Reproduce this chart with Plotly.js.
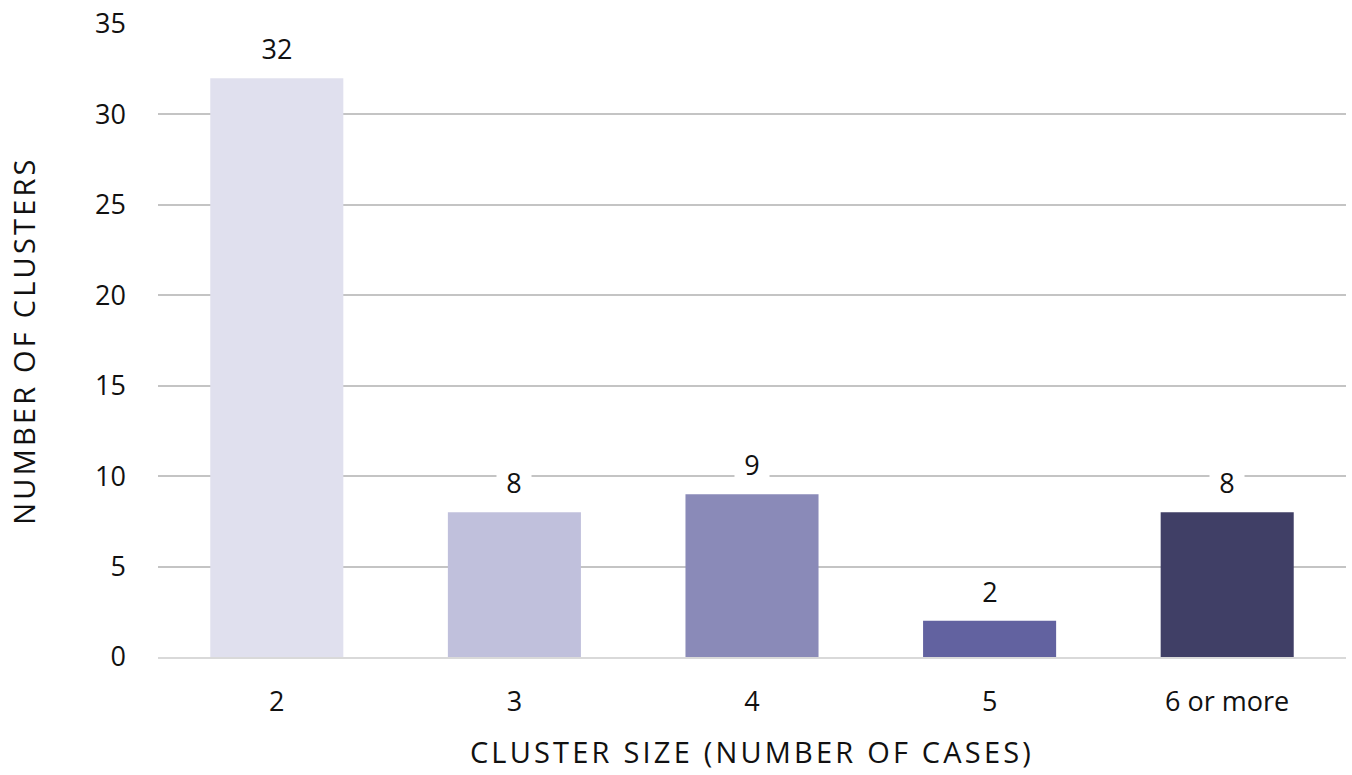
<!DOCTYPE html>
<html>
<head>
<meta charset="utf-8">
<script src="https://cdn.plot.ly/plotly-3.0.1.min.js"></script>
<style>
html,body{margin:0;padding:0;background:#fff;}
#chart{width:1352px;height:775px;}
.xtitle,.ytitle{letter-spacing:3.2px;}
</style>
</head>
<body>
<div id="chart"></div>
<script>
var categories = ["2", "3", "4", "5", "6 or more"];
var clusterCounts = [32, 8, 9, 2, 8];
var barColors = ["#E0E0EE", "#C0C0DC", "#8A8AB8", "#6262A0", "#403F66"];
var yTicks = [0, 5, 10, 15, 20, 25, 30, 35];

var fontFam = "'Open Sans', 'Noto Sans', sans-serif";
var textColor = "#111111";

var trace = {
  type: "bar",
  x: categories,
  y: clusterCounts,
  marker: {color: barColors},
  hoverinfo: "x+y"
};

var annotations = categories.map(function(c, i){
  var label = String(clusterCounts[i]);
  return {
    x: i, y: clusterCounts[i], xref: "x", yref: "y",
    text: label,
    showarrow: false, yanchor: "middle", yshift: 30,
    width: label.length * 16 + 18, height: 28,
    bgcolor: "#ffffff", borderpad: 0,
    font: {family: fontFam, size: 27, color: textColor}
  };
});

var layout = {
  width: 1352, height: 775,
  margin: {l: 158, r: 6, t: 24, b: 118},
  paper_bgcolor: "#ffffff",
  plot_bgcolor: "#ffffff",
  bargap: 0.44,
  showlegend: false,
  font: {family: fontFam, size: 27, color: textColor},
  xaxis: {
    type: "category",
    showgrid: false,
    showline: true, linecolor: "#d9d9d9", linewidth: 2,
    ticks: "", ticklabelstandoff: 20,
    tickfont: {family: fontFam, size: 27, color: textColor},
    title: {text: "CLUSTER SIZE (NUMBER OF CASES)", font: {family: fontFam, size: 29, color: textColor}, standoff: 24},
    automargin: false
  },
  yaxis: {
    range: [0, 35],
    tickvals: yTicks,
    showgrid: true, gridcolor: "#c4c4c4", gridwidth: 2,
    zeroline: false, showline: false,
    ticks: "", ticklabelstandoff: 31,
    tickfont: {family: fontFam, size: 27, color: textColor},
    title: {text: "NUMBER OF CLUSTERS", font: {family: fontFam, size: 29, color: textColor}, standoff: 50},
    automargin: false
  },
  annotations: annotations
};

Plotly.newPlot("chart", [trace], layout, {displayModeBar: false, staticPlot: true});
</script>
</body>
</html>
